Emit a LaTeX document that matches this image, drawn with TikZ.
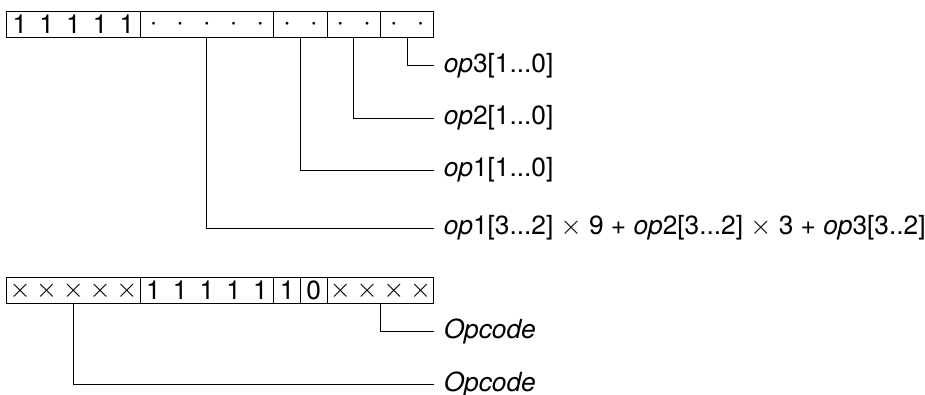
\documentclass[tikz,border=0pt]{standalone}
\usepackage{fontspec}
\setmainfont{TeX Gyre Heros}
\begin{document}
\begin{tikzpicture}[x=0.5cm,y=0.5cm,font=\fontsize{14}{16}\selectfont,line width=0.5pt]
     \tikzset{field/.style={draw, minimum height=0.5cm, inner sep=0pt, outer sep=0pt, anchor=west},
              bit/.style={inner sep=0pt},
              lbl/.style={anchor=west, inner xsep=5pt, inner ysep=1pt}}
     \useasboundingbox (0,0) rectangle (34.64,-14.79);
      %%%%%%%%%%%%%%%%%%%%%%%%%%%%%%%%%%%%%%%%%%%%%%
      %%% First instruction word
      %%%%%%%%%%%%%%%%%%%%%%%%%%%%%%%%%%%%%%%%%%%%%%
     \node[field, minimum width=2.5cm] (t1) at (0.25,-0.92) {};
     \node[field, minimum width=2.5cm] (t2) at (t1.east) {};
     \node[field, minimum width=1cm] (t3) at (t2.east) {};
     \node[field, minimum width=1cm] (t4) at (t3.east) {};
     \node[field, minimum width=1cm] (t5) at (t4.east) {};
     \foreach \x in {0,...,4} % fixed ones
         \node[bit] (one\x) at (0.75+\x,-0.92) {1};
     \foreach \x in {5,...,15} % free bits
         \node[bit] (dot\x) at (0.75+\x,-0.92) {$\cdot$};
     % Operand fields
     \node[lbl] (op3) at (16.25,-2.47) {\textit{op}3[1...0]};
     \node[lbl] (op2) at (16.25,-4.42) {\textit{op}2[1...0]};
     \node[lbl] (op1) at (16.25,-6.37) {\textit{op}1[1...0]};
     \node[lbl] (sum) at (16.25,-8.54)
          {\textit{op}1[3...2] $\times$ 9 + \textit{op}2[3...2] $\times$ 3 + \textit{op}3[3..2]};
     \draw (t5.south) |- (op3.west);
     \draw (t4.south) |- (op2.west);
     \draw (t3.south) |- (op1.west);
     \draw (t2.south) |- (sum.west);

      %%%%%%%%%%%%%%%%%%%%%%%%%%%%%%%%%%%%%%%%%%%%%%
      %%% Second instruction word
      %%%%%%%%%%%%%%%%%%%%%%%%%%%%%%%%%%%%%%%%%%%%%%
     \node[field, minimum width=2.5cm] (b1) at (0.25,-10.88) {};
     \node[field, minimum width=2.5cm] (b2) at (b1.east) {};
     \node[field, minimum width=0.5cm] (b3) at (b2.east) {1};
     \node[field, minimum width=0.5cm] (b4) at (b3.east) {0};
     \node[field, minimum width=2cm] (b5) at (b4.east) {};
     \foreach \x in {0,...,4} % low opcode bits
         \node[bit] (xa\x) at (0.75+\x,-10.88) {$\times$};
     \foreach \x in {5,...,9} % fixed ones
         \node[bit] (ib\x) at (0.75+\x,-10.88) {1};
     \foreach \x in {12,...,15} % high opcode bits
         \node[bit] (xb\x) at (0.75+\x,-10.88) {$\times$};
     \node[lbl] (opc1) at (16.25,-12.4) {\textit{Opcode}};
     \node[lbl] (opc2) at (16.25,-14.38) {\textit{Opcode}};
     \draw (b5.south) |- (opc1.west);
     \draw (b1.south) |- (opc2.west);
\end{tikzpicture}
\end{document}
